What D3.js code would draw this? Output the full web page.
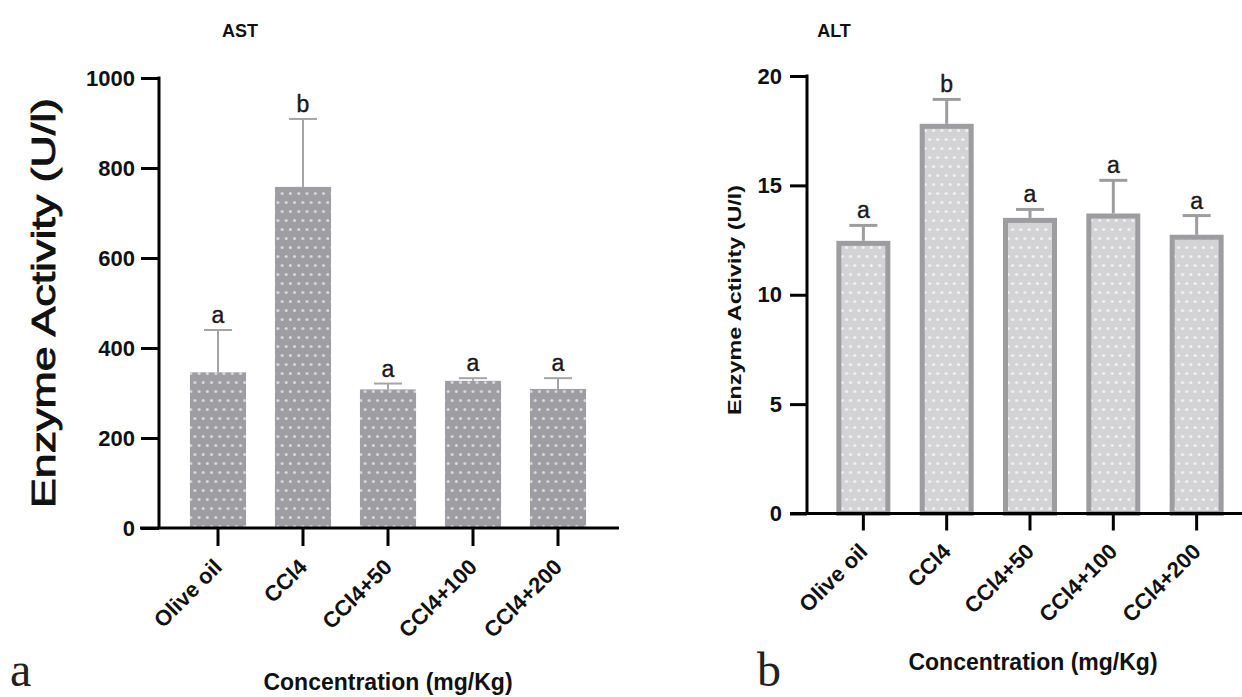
<!DOCTYPE html>
<html><head><meta charset="utf-8">
<script src="https://cdn.jsdelivr.net/npm/d3@7"></script>
<style>
html,body{margin:0;padding:0;background:#fff;}
svg{display:block;}
</style></head>
<body>
<svg id="c" width="1242" height="697" font-family="'Liberation Sans',Arial,Helvetica,sans-serif"></svg>
<script>
// ---- data ----
const categories = ["Olive oil", "CCl4", "CCl4+50", "CCl4+100", "CCl4+200"];
const astMean = [346, 758, 308, 327, 309];
const astSD   = [94, 151, 13, 6, 24];
const altMean = [12.35, 17.7, 13.4, 13.6, 12.63];
const altSD   = [0.82, 1.23, 0.5, 1.63, 0.99];
const sigLetters = ["a", "b", "a", "a", "a"];
const astTicks = [0, 200, 400, 600, 800, 1000];
const altTicks = [0, 5, 10, 15, 20];

const svg = d3.select("#c");
const defs = svg.append("defs");

// dot patterns
function dotPattern(id, bg, dot){
  const p = defs.append("pattern").attr("id", id).attr("patternUnits","userSpaceOnUse")
    .attr("width", 16.6).attr("height", 18);
  p.append("rect").attr("width",16.6).attr("height",18).attr("fill",bg);
  [[4,4.5],[12.3,4.5],[8.15,13.5],[0,13.5],[16.6,13.5]].forEach(([cx,cy])=>
    p.append("circle").attr("cx",cx).attr("cy",cy).attr("r",1.5).attr("fill",dot));
}
dotPattern("dotsA", "#9e9ea2", "#dadadd");
dotPattern("dotsB", "#d3d3d5", "#f3f3f3");

function panel(cfg){
  const g = svg.append("g");
  const y = d3.scaleLinear().domain(cfg.domain).range([cfg.y0, cfg.y1]);
  const x = d3.scaleBand().domain(categories).range(cfg.xRange)
    .paddingInner(cfg.padIn).paddingOuter(cfg.padIn/2);

  // bars
  g.selectAll("rect.bar").data(cfg.mean).join("rect")
    .attr("class","bar")
    .attr("x",(d,i)=>x(categories[i]))
    .attr("width",x.bandwidth())
    .attr("y",d=>y(d))
    .attr("height",d=>y(0)-y(d))
    .attr("fill",cfg.fill)
    .attr("stroke",cfg.stroke)
    .attr("stroke-width",cfg.strokeW);

  // error bars
  const cx = i => x(categories[i]) + x.bandwidth()/2;
  g.selectAll("line.err").data(cfg.mean).join("line")
    .attr("x1",(d,i)=>cx(i)).attr("x2",(d,i)=>cx(i))
    .attr("y1",d=>y(d)-cfg.strokeW/2).attr("y2",(d,i)=>y(d+cfg.sd[i]))
    .attr("stroke",cfg.errColor).attr("stroke-width",cfg.errW);
  g.selectAll("line.cap").data(cfg.mean).join("line")
    .attr("x1",(d,i)=>cx(i)-cfg.capW/2).attr("x2",(d,i)=>cx(i)+cfg.capW/2)
    .attr("y1",(d,i)=>y(d+cfg.sd[i])).attr("y2",(d,i)=>y(d+cfg.sd[i]))
    .attr("stroke",cfg.errColor).attr("stroke-width",cfg.errW);

  // significance letters
  g.selectAll("text.sig").data(cfg.mean).join("text")
    .attr("x",(d,i)=>cx(i)).attr("y",(d,i)=>y(d+cfg.sd[i])-7)
    .attr("text-anchor","middle").attr("font-size",cfg.sigSize).attr("fill","#1a1a1a")
    .attr("stroke","#1a1a1a").attr("stroke-width",0.4)
    .text((d,i)=>sigLetters[i]);

  // y axis
  const ya = g.append("g").attr("transform",`translate(${cfg.axX},0)`)
    .call(d3.axisLeft(y).tickValues(cfg.ticks).tickFormat(d3.format("d"))
      .tickSize(cfg.tick).tickSizeOuter(0).tickPadding(cfg.tickPadY));
  ya.attr("font-family",null).attr("font-size",null);
  ya.select(".domain").remove();
  ya.selectAll(".tick line").attr("stroke","#000").attr("stroke-width",3);
  ya.selectAll(".tick text").attr("font-size",cfg.tickFont).attr("font-weight","bold").attr("fill","#111");
  g.append("line").attr("x1",cfg.axX).attr("x2",cfg.axX).attr("y1",y(cfg.domain[1])-1.5).attr("y2",y(0))
    .attr("stroke","#000").attr("stroke-width",3);

  // x axis
  const xa = g.append("g").attr("transform",`translate(0,${y(0)})`)
    .call(d3.axisBottom(x).tickSize(cfg.tick).tickSizeOuter(0));
  xa.attr("font-family",null).attr("font-size",null);
  xa.select(".domain").remove();
  xa.selectAll(".tick line").attr("stroke","#000").attr("stroke-width",3);
  xa.selectAll(".tick text").attr("font-size",cfg.xFont).attr("font-weight","bold").attr("fill","#111")
    .attr("text-anchor","end").attr("x",0).attr("y",0).attr("dy","0.35em")
    .attr("transform",`translate(${cfg.xLabDx},${cfg.xLabDy}) rotate(-45)`);
  g.append("line").attr("x1",cfg.xLine[0]).attr("x2",cfg.xLine[1]).attr("y1",y(0)).attr("y2",y(0))
    .attr("stroke","#000").attr("stroke-width",3);

  // titles
  g.append("text").attr("x",cfg.titleX).attr("y",37).attr("text-anchor","middle")
    .attr("font-size",18).attr("font-weight","bold").attr("fill","#111").text(cfg.title);
  g.append("text").attr("transform",`translate(${cfg.yTitleX},${cfg.yTitleY}) rotate(-90)`)
    .attr("text-anchor","middle").attr("font-size",cfg.yTitleSize).attr("font-weight",cfg.yTitleWeight)
    .attr("fill","#111").attr("stroke","#111").attr("stroke-width",cfg.yTitleStroke)
    .attr("textLength",cfg.yTitleLen).attr("lengthAdjust","spacingAndGlyphs")
    .text("Enzyme Activity (U/l)");
  g.append("text").attr("x",cfg.xTitleX).attr("y",cfg.xTitleY).attr("text-anchor","middle")
    .attr("font-size",23).attr("font-weight","bold").attr("fill","#111").text("Concentration (mg/Kg)");
  g.append("text").attr("x",cfg.panelX).attr("y",cfg.panelY)
    .attr("font-family","'Liberation Serif','Times New Roman',serif")
    .attr("font-size",cfg.panelSize).attr("fill","#222").text(cfg.panel);
}

panel({
  domain:[0,1000], y0:528, y1:78, xRange:[175.5,600.5], padIn:0.34,
  mean:astMean, sd:astSD, ticks:astTicks, fill:"url(#dotsA)", stroke:"none", strokeW:0,
  errColor:"#a4a4a6", errW:2, capW:28, sigSize:23,
  axX:159, tick:18, tickPadY:6, tickFont:22, xFont:22, xLabDx:0, xLabDy:35,
  xLine:[140,619],
  title:"AST", titleX:240,
  yTitleX:55, yTitleY:303, yTitleSize:33, yTitleWeight:"normal", yTitleStroke:0.9, yTitleLen:410,
  xTitleX:388, xTitleY:690, panel:"a", panelX:10, panelY:686, panelSize:48
});

panel({
  domain:[0,20], y0:513.5, y1:76, xRange:[821.7,1238.3], padIn:0.412,
  mean:altMean, sd:altSD, ticks:altTicks, fill:"url(#dotsB)", stroke:"#9d9d9f", strokeW:5,
  errColor:"#9d9d9f", errW:3, capW:28, sigSize:23,
  axX:807, tick:17, tickPadY:8, tickFont:22, xFont:22, xLabDx:0, xLabDy:34,
  xLine:[790,1242],
  title:"ALT", titleX:834,
  yTitleX:741, yTitleY:300, yTitleSize:18, yTitleWeight:"bold", yTitleStroke:0, yTitleLen:230,
  xTitleX:1033, xTitleY:670, panel:"b", panelX:757, panelY:686, panelSize:48
});
</script>
</body></html>
